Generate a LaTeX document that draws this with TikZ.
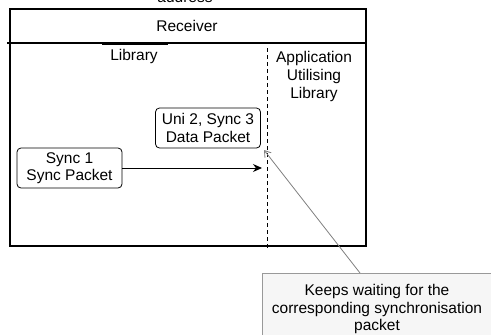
\documentclass[tikz,border=0pt]{standalone}
\usepackage{fontspec}
\setmainfont{Liberation Sans}
\usetikzlibrary{arrows.meta}

\tikzset{
  packet/.style={draw, rounded corners=4pt, line width=0.8pt, align=center,
    inner sep=2pt, font=\fontsize{15.5}{17.5}\selectfont},
  label/.style={align=center, font=\fontsize{15.5}{18}\selectfont},
  note/.style={draw=gray!80, fill=gray!7, line width=0.8pt, align=center,
    font=\fontsize{15.5}{17.5}\selectfont}
}

\begin{document}
\begin{tikzpicture}[x=1pt, y=-1pt]
                \useasboundingbox (0,0) rectangle (491,335);
                % Frame, header and regions:
                \node[anchor=base, label] (addr) at (185,2.5) {address};
                \node[draw, line width=1.1pt, minimum width=356pt, minimum height=237pt,
                      inner sep=0pt] (frame) at (188,127.5) {};
                \coordinate (hstart) at (7,43);
                \draw[line width=1.1pt] (hstart) -- (hstart -| frame.east);
                \coordinate (libA) at (102,44.5);
                \coordinate (libB) at (168,44.5);
                \draw[line width=1pt] (libA) -- (libB);
                \node[label] (recv) at (187,26) {Receiver};
                \node[label] (lib) at (134,56) {Library};
                \node[label] (app) at (314,76) {Application\\Utilising\\Library};
                \coordinate (splitT) at (267,48);
                \coordinate (splitB) at (267,250);
                \draw[dashed, line width=0.9pt, dash pattern=on 4pt off 3pt] (splitT) -- (splitB);
                % Packets and arrows:
                \node[packet, minimum width=105pt, minimum height=40pt] (data) at (208,128)
                      {Uni 2, Sync 3\\Data Packet};
                \node[packet, minimum width=105pt, minimum height=40pt] (sync) at (69.5,168)
                      {Sync 1\\Sync Packet};
                \coordinate (arrowend) at (262,168);
                \draw[line width=1pt, -{Stealth[length=9pt, width=8pt]}] (sync.east) -- (arrowend);
                \node[note, minimum width=230pt, minimum height=72pt] (wait) at (377,309)
                      {Keeps waiting for the\\corresponding synchronisation\\packet};
                \coordinate (waitT) at (360,273);
                \coordinate (waitend) at (264,150);
                \draw[gray, line width=0.8pt, -{Straight Barb[length=6pt, width=8pt]}] (waitT) -- (waitend);
            \end{tikzpicture}
\end{document}
